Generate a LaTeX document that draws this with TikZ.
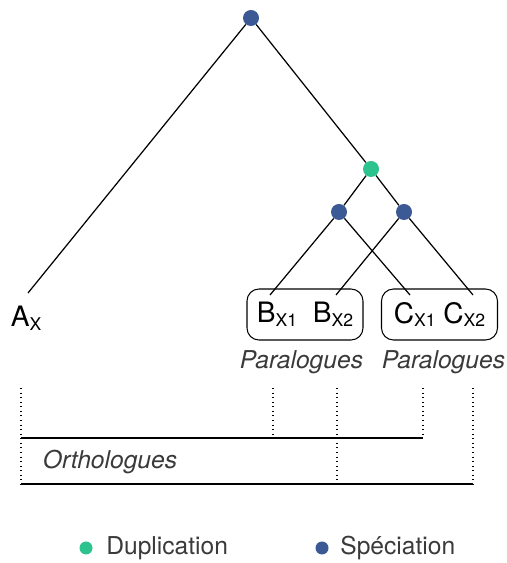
\documentclass[tikz,border=0pt]{standalone}
\usepackage{fontspec}
\setmainfont{TeX Gyre Heros}

\definecolor{dupgreen}{HTML}{2DC38F}
\definecolor{specblue}{HTML}{3B5994}
\definecolor{labelgrey}{HTML}{3A3A3A}

\newcommand{\gsub}[1]{\raisebox{-2pt}{\fontsize{10}{12}\selectfont #1}}

\tikzset{
	spec/.style={circle, fill=specblue, inner sep=0pt, minimum size=0.32cm},
	dupl/.style={circle, fill=dupgreen, inner sep=0pt, minimum size=0.32cm},
	branch/.style={line width=0.7pt},
	genebox/.style={draw, line width=0.6pt, rounded corners=0.24cm, minimum width=2.32cm, minimum height=1.02cm, inner sep=0pt, font=\fontsize{16}{19}\selectfont},
	grouplabel/.style={font=\fontsize{14}{17}\selectfont\itshape, text=labelgrey},
	legendtext/.style={font=\fontsize{14}{17}\selectfont, text=labelgrey, anchor=west, inner sep=0pt},
	guide/.style={dotted, line width=0.6pt}
}

\begin{document}
\begin{tikzpicture}
%	helplines
%	\draw[thin] (0,0) grid (10,11);
	\useasboundingbox (0,0) rectangle (10.14,11.26);

	% tree
	\node (root)[spec] at (5.02,10.90) {};
	\node (dup)[dupl] at (7.42,7.88) {};
	\node (specb)[spec] at (6.78,7.02) {};
	\node (specc)[spec] at (8.08,7.02) {};

	\coordinate (ax) at (0.56,5.40);
	\coordinate (bx1) at (5.40,5.36);
	\coordinate (bx2) at (6.72,5.36);
	\coordinate (cx1) at (8.20,5.36);
	\coordinate (cx2) at (9.46,5.36);

	\draw[branch] (root) -- (ax);
	\draw[branch] (root) -- (dup);
	\draw[branch] (dup) -- (specb);
	\draw[branch] (dup) -- (specc);
	\draw[branch] (specb) -- (bx1);
	\draw[branch] (specb) -- (cx1);
	\draw[branch] (specc) -- (bx2);
	\draw[branch] (specc) -- (cx2);

	% leaves
	\node (aleaf)[font=\fontsize{16}{19}\selectfont] at (0.52,4.90) {A\gsub{X}};
	\node (bbox)[genebox] at (6.10,4.97) {B\gsub{X1}\hspace{9pt}B\gsub{X2}};
	\node (cbox)[genebox] at (8.79,4.97) {C\gsub{X1} C\gsub{X2}};

	\node (bpara)[grouplabel] at (6.03,4.02) {Paralogues};
	\node (cpara)[grouplabel] at (8.87,4.02) {Paralogues};

	% orthology brackets
	\coordinate (ta) at (0.42,3.50);
	\coordinate (tb1) at (5.46,3.50);
	\coordinate (tb2) at (6.74,3.50);
	\coordinate (tc1) at (8.46,3.50);
	\coordinate (tc2) at (9.46,3.50);
	\coordinate (ua) at (0.42,2.50);
	\coordinate (ub1) at (5.46,2.50);
	\coordinate (uc1) at (8.46,2.50);
	\coordinate (la) at (0.42,1.58);
	\coordinate (lb2) at (6.74,1.58);
	\coordinate (lc2) at (9.46,1.58);

	\draw[guide] (ta) -- (la);
	\draw[guide] (tb1) -- (ub1);
	\draw[guide] (tb2) -- (lb2);
	\draw[guide] (tc1) -- (uc1);
	\draw[guide] (tc2) -- (lc2);
	\draw[branch] (ua) -- (uc1);
	\draw[branch] (la) -- (lc2);

	\node (ortho)[grouplabel] at (2.20,2.02) {Orthologues};

	% legend
	\node (ldup)[dupl, minimum size=0.26cm] at (1.72,0.30) {};
	\node (ldupt)[legendtext] at (2.12,0.30) {Duplication};
	\node (lspec)[spec, minimum size=0.26cm] at (6.44,0.30) {};
	\node (lspect)[legendtext] at (6.80,0.30) {Spéciation};

\end{tikzpicture}
\end{document}
